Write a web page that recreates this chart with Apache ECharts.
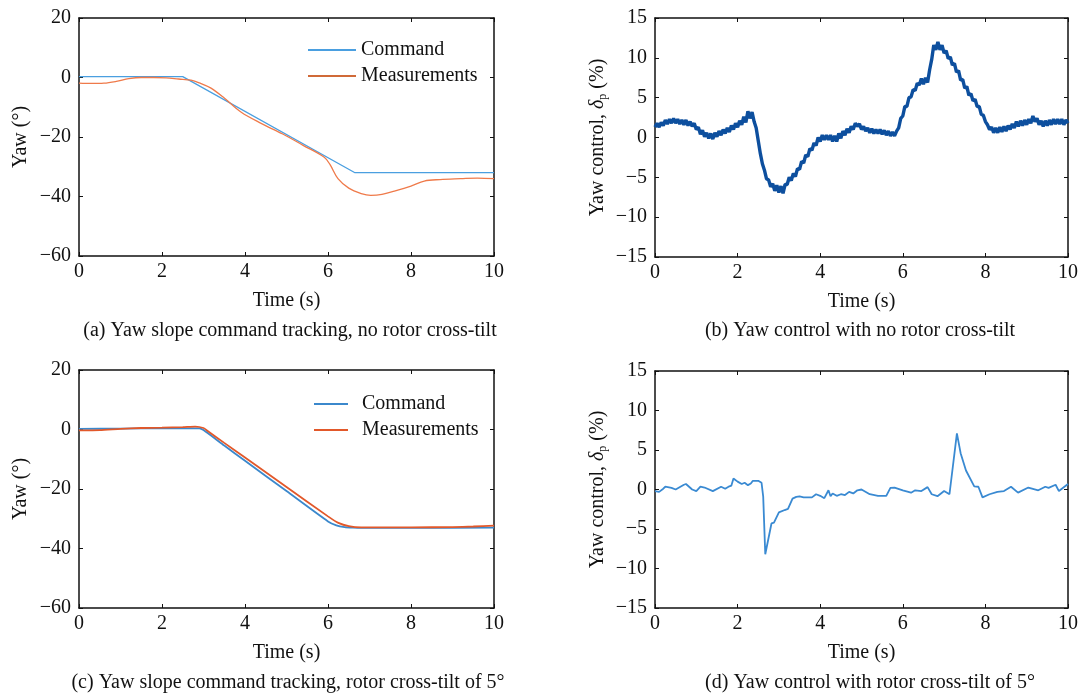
<!DOCTYPE html>
<html>
<head>
<meta charset="utf-8">
<script src="https://cdn.jsdelivr.net/npm/echarts@6/dist/echarts.min.js"></script>
<style>html,body{margin:0;padding:0;background:#fff;}#c{width:1081px;height:695px;}</style>
</head>
<body>
<div id="c"></div>
<script>
// ---------- data ----------
const xTicks = [0, 2, 4, 6, 8, 10];
const yawTicks = [-60, -40, -20, 0, 20];
const ctrlTicks = [-15, -10, -5, 0, 5, 10, 15];

// (a) no rotor cross-tilt
const aCmdT = [0, 2.5, 6.65, 10];
const aCmdV = [0.3, 0.3, -32, -32];
const aMeasT = [0, 0.3, 0.6, 0.9, 1.2, 1.5, 1.8, 2.1, 2.4, 2.7, 2.9, 3.17, 3.5, 3.91, 4.4, 4.91, 5.4, 5.91, 6.05, 6.24, 6.5, 6.8, 7.03, 7.3, 7.6, 8.0, 8.32, 8.7, 9.2, 9.6, 10];
const aMeasV = [-1.9, -2.0, -1.9, -1.3, -0.4, 0, 0, -0.1, -0.5, -0.9, -1.8, -3.5, -6.9, -11.7, -15.5, -19.0, -22.8, -26.8, -29.3, -34, -37.2, -39, -39.6, -39.3, -38.2, -36.5, -34.8, -34.3, -34, -33.8, -34];

// (b) yaw control, no cross-tilt (sampled every 0.05 s)
const bStep = 0.05;
const bV = [
 1.3,1.8,1.3,1.9,1.5,2.2,1.7,2.3,1.8,2.4,1.8,2.3,1.7,2.2,1.6,2.2,1.5,2.0,1.4,1.8,
 1.0,1.3,0.4,0.9,0.1,0.6,-0.1,0.5,-0.2,0.6,0.1,0.8,0.3,1.0,0.5,1.2,0.7,1.5,1.0,1.8,
 1.3,2.1,1.6,2.6,1.9,3.3,2.4,3.2,2.0,1.2,-0.4,-2.0,-3.3,-4.1,-5.2,-5.3,-6.2,-5.8,-6.7,-6.0,
 -6.9,-6.1,-7.0,-5.9,-5.9,-5.0,-5.4,-4.5,-4.9,-3.9,-4.0,-3.0,-3.2,-2.2,-2.4,-1.4,-1.6,-0.7,-1.0,0.0,
 -0.5,0.3,-0.3,0.3,-0.3,0.3,-0.5,0.2,-0.5,0.5,-0.1,0.8,0.3,1.1,0.6,1.4,1.0,1.8,1.4,1.7,
 1.0,1.4,0.8,1.2,0.6,1.1,0.5,1.0,0.5,1.0,0.4,0.9,0.3,0.8,0.2,0.7,0.2,0.8,1.2,2.4,
 2.7,3.9,3.9,5.0,5.1,6.0,5.9,6.8,6.6,7.4,6.7,7.5,6.9,8.5,9.8,11.6,11.0,12.0,11.0,11.6,
 10.6,10.9,9.9,10.1,9.1,9.3,8.2,8.4,7.2,7.3,6.2,6.4,5.3,5.5,4.6,4.8,3.9,3.9,2.9,2.8,
 2.0,1.6,1.0,1.3,0.6,1.2,0.6,1.3,0.7,1.4,0.8,1.5,1.0,1.7,1.2,2.0,1.4,2.1,1.5,2.2,
 1.6,2.3,1.8,2.7,2.0,2.4,1.6,2.1,1.4,2.1,1.5,2.2,1.6,2.3,1.7,2.3,1.7,2.3,1.6,2.2,
 1.8
];

// (c) rotor cross-tilt of 5 deg
const cCmdT = [0, 1, 2, 2.9, 3.0, 3.5, 4, 5, 6, 6.2, 6.4, 6.6, 6.8, 8, 10];
const cCmdV = [0.2, 0.3, 0.4, 0.4, -0.2, -5.4, -10.5, -20.7, -30.9, -32.2, -32.8, -33.0, -33.1, -33.1, -33.0];
const cMeasT = [0, 0.5, 1, 1.5, 2, 2.5, 2.8, 3.0, 3.1, 3.5, 4, 5, 6, 6.25, 6.5, 6.8, 8, 9, 9.5, 10];
const cMeasV = [-0.3, -0.2, 0.2, 0.5, 0.6, 0.8, 1.0, 0.5, -0.5, -4.5, -9.4, -19.3, -29.2, -31.4, -32.5, -32.9, -32.9, -32.8, -32.6, -32.3];

// (d) yaw control, cross-tilt of 5 deg
const dT = [0, 0.1, 0.2, 0.25, 0.4, 0.5, 0.7, 0.75, 0.9, 1.0, 1.1, 1.2, 1.4, 1.6, 1.7, 1.8, 1.85, 1.9, 2.0, 2.1, 2.17, 2.25, 2.32, 2.37, 2.5, 2.58, 2.62, 2.67, 2.82, 2.88, 3.0, 3.14, 3.22, 3.33, 3.42, 3.5, 3.6, 3.8, 3.9, 4.0, 4.1, 4.2, 4.25, 4.3, 4.4, 4.5, 4.6, 4.7, 4.8, 4.9, 5.0, 5.2, 5.4, 5.6, 5.7, 5.8, 6.0, 6.2, 6.3, 6.45, 6.6, 6.7, 6.84, 7.0, 7.13, 7.31, 7.4, 7.53, 7.73, 7.83, 7.93, 8.1, 8.29, 8.45, 8.62, 8.79, 9.04, 9.28, 9.45, 9.53, 9.7, 9.78, 10.0];
const dV = [-0.2, -0.3, 0.1, 0.35, 0.2, 0.0, 0.6, 0.7, 0.0, -0.2, 0.35, 0.25, -0.2, 0.35, 0.1, 0.4, 0.5, 1.4, 1.0, 0.7, 0.85, 0.55, 0.75, 1.1, 1.1, 0.85, -0.9, -8.2, -4.3, -4.2, -2.9, -2.6, -2.45, -1.15, -0.93, -0.87, -1.0, -1.0, -0.6, -0.8, -1.1, -0.1, -0.85, -0.5, -0.8, -0.6, -0.7, -0.3, -0.5, -0.1, 0.0, -0.6, -0.8, -0.8, 0.2, 0.25, -0.1, -0.4, -0.1, -0.2, 0.3, -0.6, -0.85, -0.2, -0.6, 7.1, 4.6, 2.4, 0.4, 0.35, -1.0, -0.6, -0.3, -0.2, 0.35, -0.4, 0.25, -0.1, 0.35, 0.2, 0.6, -0.2, 0.7];

const captions = [
  '(a) Yaw slope command tracking, no rotor cross-tilt',
  '(b) Yaw control with no rotor cross-tilt',
  '(c) Yaw slope command tracking, rotor cross-tilt of 5°',
  '(d) Yaw control with rotor cross-tilt of 5°'
];
const yawName = 'Yaw (°)';
const ctrlName = 'Yaw control, {d|δ}{p|p} (%)';

// ---------- helpers ----------
const FONT = '"Liberation Serif", "Times New Roman", serif';
const pairs = (t, v) => t.map((x, i) => [x, v[i]]);
const bData = bV.map((v, i) => [+(i * bStep).toFixed(2), v]);
const minus = v => String(v).replace('-', '\u2212');

const grids = [
  { left: 79, top: 18, width: 415, height: 238 },
  { left: 655, top: 18, width: 414, height: 239 },
  { left: 79, top: 370, width: 415, height: 238 },
  { left: 655, top: 371, width: 414, height: 237 }
];

const axisLine = { show: true, onZero: false, lineStyle: { color: '#111', width: 1.5 } };
const tickIn = { show: true, inside: true, length: 4, lineStyle: { color: '#111', width: 1 } };

const xAxes = [], yAxes = [];
grids.forEach((g, i) => {
  xAxes.push({
    type: 'value', gridIndex: i, position: 'bottom', min: xTicks[0], max: xTicks[xTicks.length - 1], interval: 2,
    axisLine, axisTick: tickIn, splitLine: { show: false },
    axisLabel: { fontFamily: FONT, fontSize: 20, color: '#111', margin: 6 },
    name: 'Time (s)', nameLocation: 'middle', nameGap: 35,
    nameTextStyle: { fontFamily: FONT, fontSize: 20, color: '#111' }
  });
  xAxes.push({
    type: 'value', gridIndex: i, position: 'top', min: 0, max: 10, interval: 2,
    axisLine, axisTick: tickIn, axisLabel: { show: false }, splitLine: { show: false }
  });
  const yaw = (i % 2 === 0);
  const ticks = yaw ? yawTicks : ctrlTicks;
  yAxes.push({
    type: 'value', gridIndex: i, position: 'left', min: ticks[0], max: ticks[ticks.length - 1], interval: yaw ? 20 : 5,
    axisLine, axisTick: tickIn, splitLine: { show: false },
    axisLabel: { fontFamily: FONT, fontSize: 20, color: '#111', margin: 8, formatter: minus },
    name: yaw ? yawName : ctrlName, nameLocation: 'middle', nameRotate: 90, nameGap: yaw ? 48 : 46,
    nameTextStyle: {
      fontFamily: FONT, fontSize: 20, color: '#111',
      rich: {
        d: { fontFamily: FONT, fontSize: 20, fontStyle: 'italic', color: '#111' },
        p: { fontFamily: FONT, fontSize: 12, color: '#111', verticalAlign: 'bottom', padding: [10, 0, 0, 0] }
      }
    }
  });
  yAxes.push({
    type: 'value', gridIndex: i, position: 'right', min: ticks[0], max: ticks[ticks.length - 1], interval: yaw ? 20 : 5,
    axisLine, axisTick: tickIn, axisLabel: { show: false }, splitLine: { show: false }
  });
});

const series = [
  { name: 'Command', type: 'line', xAxisIndex: 0, yAxisIndex: 0, data: pairs(aCmdT, aCmdV), symbol: 'none',
    lineStyle: { color: '#4a9fe0', width: 1.3 }, itemStyle: { color: '#4a9fe0' } },
  { name: 'Measurements', type: 'line', xAxisIndex: 0, yAxisIndex: 0, data: pairs(aMeasT, aMeasV), symbol: 'none',
    smooth: 0.35, lineStyle: { color: '#ef7a4a', width: 1.3 }, itemStyle: { color: '#ef7a4a' } },
  { name: 'ctrlB', type: 'line', xAxisIndex: 2, yAxisIndex: 2, data: bData, symbol: 'none',
    lineStyle: { color: '#0d4f9e', width: 3.4 } },
  { name: 'Command', type: 'line', xAxisIndex: 4, yAxisIndex: 4, data: pairs(cCmdT, cCmdV), symbol: 'none',
    smooth: 0.2, lineStyle: { color: '#3b88cc', width: 1.8 }, itemStyle: { color: '#3b88cc' } },
  { name: 'Measurements', type: 'line', xAxisIndex: 4, yAxisIndex: 4, data: pairs(cMeasT, cMeasV), symbol: 'none',
    smooth: 0.2, lineStyle: { color: '#e2582a', width: 1.8 }, itemStyle: { color: '#e2582a' } },
  { name: 'ctrlD', type: 'line', xAxisIndex: 6, yAxisIndex: 6, data: pairs(dT, dV), symbol: 'none',
    lineStyle: { color: '#3a8ad2', width: 1.8 } }
];

const legendText = { fontFamily: FONT, fontSize: 20, color: '#111' };
const legends = [
  { orient: 'vertical', left: 303, top: 35, icon: 'rect', itemWidth: 48, itemHeight: 2, itemGap: 6,
    textStyle: legendText, selectedMode: false,
    data: [
      { name: 'Command', itemStyle: { color: '#4a9fe0' } },
      { name: 'Measurements', itemStyle: { color: '#d06a38' } }
    ] },
  { orient: 'vertical', left: 309, top: 389, icon: 'rect', itemWidth: 34, itemHeight: 2, itemGap: 6,
    textStyle: Object.assign({ padding: [0, 0, 0, 9] }, legendText), selectedMode: false,
    data: [
      { name: 'Command', itemStyle: { color: '#3b88cc' } },
      { name: 'Measurements', itemStyle: { color: '#e2582a' } }
    ] }
];

const capPos = [[290, 331], [860, 331], [288, 683], [870, 683]];
const graphic = captions.map((t, i) => ({
  type: 'text', x: capPos[i][0], y: capPos[i][1],
  style: { text: t, font: '20px ' + FONT, fill: '#111', align: 'center', verticalAlign: 'middle', textAlign: 'center', textVerticalAlign: 'middle' }
}));

const chart = echarts.init(document.getElementById('c'), null, { renderer: 'canvas' });
chart.setOption({
  animation: false,
  backgroundColor: '#fff',
  grid: grids,
  xAxis: xAxes,
  yAxis: yAxes,
  legend: legends,
  series,
  graphic
});
</script>
</body>
</html>
